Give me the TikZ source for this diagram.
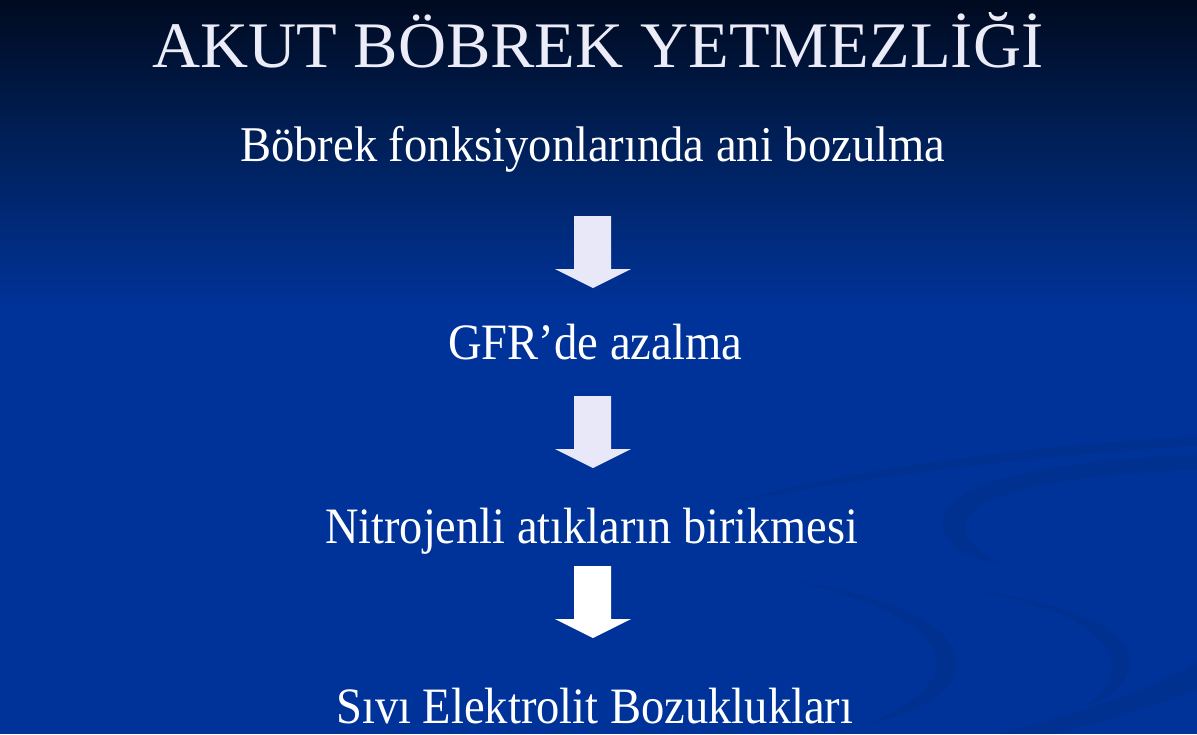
\documentclass[tikz,border=0pt]{standalone}
\usepackage{fontspec}
\setmainfont{Liberation Serif}
\usepackage{graphicx}
\definecolor{bgtop}{HTML}{000A20}
\definecolor{bgmid}{HTML}{001D50}
\definecolor{bgbot}{HTML}{003399}
\definecolor{titlecol}{HTML}{ECECF8}
\definecolor{arrowcol}{HTML}{E8E8F9}
\definecolor{bandcol}{HTML}{00266F}
\newcommand\myfit[3]{\resizebox{#1pt}{\height}{\fontsize{#2}{#2}\selectfont #3}}
\begin{document}
\begin{tikzpicture}[x=1pt,y=-1pt,
  txt/.style={text=white,inner sep=0pt,anchor=base west},
  ttl/.style={text=titlecol,inner sep=0pt,anchor=base west},
  blockarrow/.style={fill=arrowcol,draw=none},
  band/.style={fill=bandcol,fill opacity=0.2,draw=none}]
\useasboundingbox (0,0) rectangle (1197,734);
% background
\fill[bgbot] (0,0) rectangle (1197,734);
\shade[top color=bgtop,bottom color=bgmid] (0,0) rectangle (1197,121);
\shade[top color=bgmid,bottom color=bgbot] (0,120) rectangle (1197,310);
% decorative swooshes
\fill[band] (720,505) .. controls (850,470) and (1000,448) .. (1197,436)
   -- (1197,446) .. controls (1000,458) and (850,480) .. (720,505) -- cycle;
\fill[band] (1197,455) .. controls (1080,458) and (930,478) .. (943,528)
   .. controls (950,552) and (975,560) .. (1000,563)
   .. controls (978,552) and (962,540) .. (966,523)
   .. controls (975,490) and (1080,474) .. (1197,470) -- cycle;
\fill[band] (790,580) .. controls (900,598) and (962,628) .. (956,670)
   .. controls (950,700) and (905,716) .. (860,726)
   .. controls (905,708) and (934,690) .. (936,665)
   .. controls (938,630) and (880,600) .. (790,580) -- cycle;
\fill[band] (960,588) .. controls (1060,600) and (1135,628) .. (1130,665)
   .. controls (1127,688) and (1105,700) .. (1085,706)
   .. controls (1100,695) and (1112,685) .. (1112,665)
   .. controls (1110,630) and (1050,602) .. (960,588) -- cycle;
\fill[band] (1000,734) .. controls (1080,712) and (1150,690) .. (1197,662)
   -- (1197,690) .. controls (1150,708) and (1090,725) .. (1055,734) -- cycle;
% title
\node[ttl] (title) at (152,67) {\myfit{891}{65}{AKUT BÖBREK YETMEZLİĞİ}};
% steps
\node[txt] (s1) at (240,161) {\myfit{705}{50}{Böbrek fonksiyonlarında ani bozulma}};
\node[txt] (s2) at (448,359) {\myfit{294}{51}{GFR’de azalma}};
\node[txt] (s3) at (325,543) {\myfit{533}{51}{Nitrojenli atıkların birikmesi}};
\node[txt] (s4) at (336,723) {\myfit{517}{51}{Sıvı Elektrolit Bozuklukları}};
% block arrows
\coordinate (a1) at (593,216);
\coordinate (a2) at (593,396);
\coordinate (a3) at (593,566);
\foreach \c/\col in {a1/arrowcol,a2/arrowcol,a3/white}{
  \fill[blockarrow,fill=\col] ([xshift=-19pt]\c) -- ([xshift=18pt]\c)
    -- ([xshift=18pt,yshift=-53pt]\c) -- ([xshift=38pt,yshift=-53pt]\c)
    -- ([yshift=-72pt]\c) -- ([xshift=-38pt,yshift=-53pt]\c)
    -- ([xshift=-19pt,yshift=-53pt]\c) -- cycle;
}
\end{tikzpicture}
\end{document}
